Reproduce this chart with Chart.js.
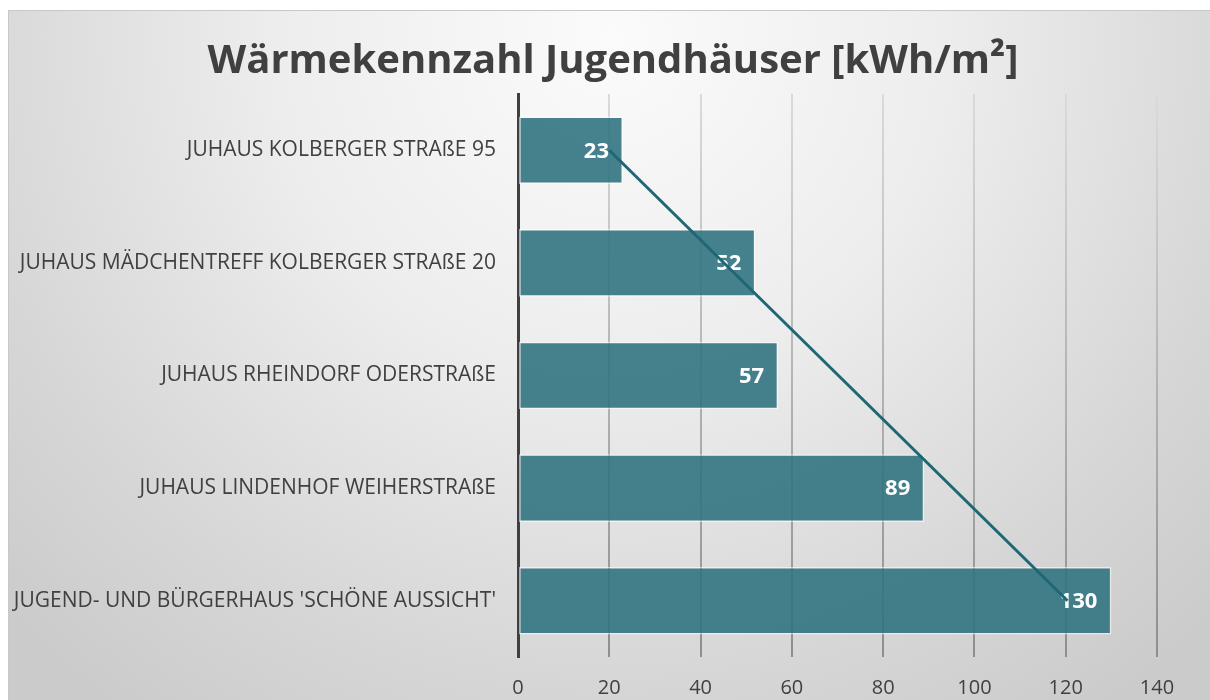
<!DOCTYPE html>
<html>
<head>
<meta charset="utf-8">
<script src="https://cdn.jsdelivr.net/npm/chart.js@4.4.1/dist/chart.umd.min.js"></script>
<style>
  html, body { margin: 0; padding: 0; background: #fff; overflow: hidden; }
  #box {
    position: absolute; left: 8px; top: 10px;
    width: 1202px; height: 720px;
    border: 1px solid #c8c8c8;
    background: radial-gradient(ellipse 70% 115% at 50% 4%, #fbfbfb 0%, #ededed 40%, #d6d6d6 78%, #cbcbcb 100%);
  }
</style>
</head>
<body>
<div id="box"><canvas id="myChart" width="1202" height="720"></canvas></div>
<script>
// data
const categories = [
  'JUHAUS KOLBERGER STRAßE 95',
  'JUHAUS MÄDCHENTREFF KOLBERGER STRAßE 20',
  'JUHAUS RHEINDORF ODERSTRAßE',
  'JUHAUS LINDENHOF WEIHERSTRAßE',
  "JUGEND- UND BÜRGERHAUS 'SCHÖNE AUSSICHT'"
]
const values = [23, 52, 57, 89, 130]
// linear trendline, ends as drawn in the picture
const trendStart = 20
const trendEnd = 120.4
const axisMin = 0
const axisMax = 140
const axisStep = 20
const titleText = 'Wärmekennzahl Jugendhäuser [kWh/m²]'

const trend = categories.map((c, i) => i == 0 ? trendStart : (i == categories.length - 1 ? trendEnd : null))

const FONT = "'Open Sans', 'Noto Sans', sans-serif"

//gridlines get darker towards the bottom
const gridColor = (c) => {
  const a = c.chart.chartArea
  if (!a) return '#b5b5b5'
  const g = c.chart.ctx.createLinearGradient(0, a.top, 0, a.bottom)
  g.addColorStop(0, '#dadada')
  g.addColorStop(1, '#8e8e8e')
  return g
}

//title centred on the whole box, not on the padded layout
const boxTitle = {
  id: 'boxTitle',
  afterDraw(chart) {
    const ctx = chart.ctx
    ctx.save()
    ctx.fillStyle = '#404040'
    ctx.font = 'bold 40px ' + FONT
    ctx.textAlign = 'center'
    ctx.textBaseline = 'middle'
    ctx.fillText(titleText, chart.width / 2 + 3, 51)
    ctx.restore()
  }
}

//white value labels inside the end of each bar
const barLabels = {
  id: 'barLabels',
  afterDatasetDraw(chart, args) {
    if (args.index != 0) return
    const ctx = chart.ctx
    ctx.save()
    ctx.fillStyle = '#ffffff'
    ctx.font = 'bold 22px ' + FONT
    ctx.textAlign = 'right'
    ctx.textBaseline = 'middle'
    args.meta.data.forEach((bar, i) => {
      ctx.fillText(String(values[i]), bar.x - 14, bar.y + 1)
    })
    ctx.restore()
  }
}

new Chart('myChart', {
  type: 'bar',
  data: {
    labels: categories,
    datasets: [{
      data: values,
      backgroundColor: 'rgba(50,115,130,0.9)',
      borderColor: 'rgba(255,255,255,0.55)',
      borderWidth: 1.5,
      borderSkipped: false,
      categoryPercentage: 1,
      barPercentage: 0.6,
      order: 2
    }, {
      type: 'line',
      data: trend,
      spanGaps: true,
      borderColor: '#1f6774',
      borderWidth: 3,
      pointRadius: 0,
      fill: false,
      order: 1
    }]
  },
  plugins: [barLabels, boxTitle],
  options: {
    indexAxis: 'y',
    responsive: false,
    animation: false,
    layout: { padding: { left: 0, right: 54, top: 83, bottom: 14 } },
    plugins: {
      legend: { display: false },
      tooltip: { enabled: false },
      title: { display: false }
    },
    scales: {
      x: {
        min: axisMin,
        max: axisMax,
        ticks: { stepSize: axisStep, color: '#404040', font: { family: FONT, size: 20 }, padding: 19 },
        grid: { color: gridColor, lineWidth: 2, drawTicks: false },
        border: { display: false },
        afterFit: (s) => { s.height = 60 }
      },
      y: {
        ticks: { color: '#404040', font: { family: FONT, size: 21 }, padding: 22 },
        grid: { color: 'rgba(0,0,0,0)', drawTicks: false },
        border: { display: true, color: '#404040', width: 3 },
        afterFit: (s) => { s.width = 509 }
      }
    }
  }
})
</script>
</body>
</html>
